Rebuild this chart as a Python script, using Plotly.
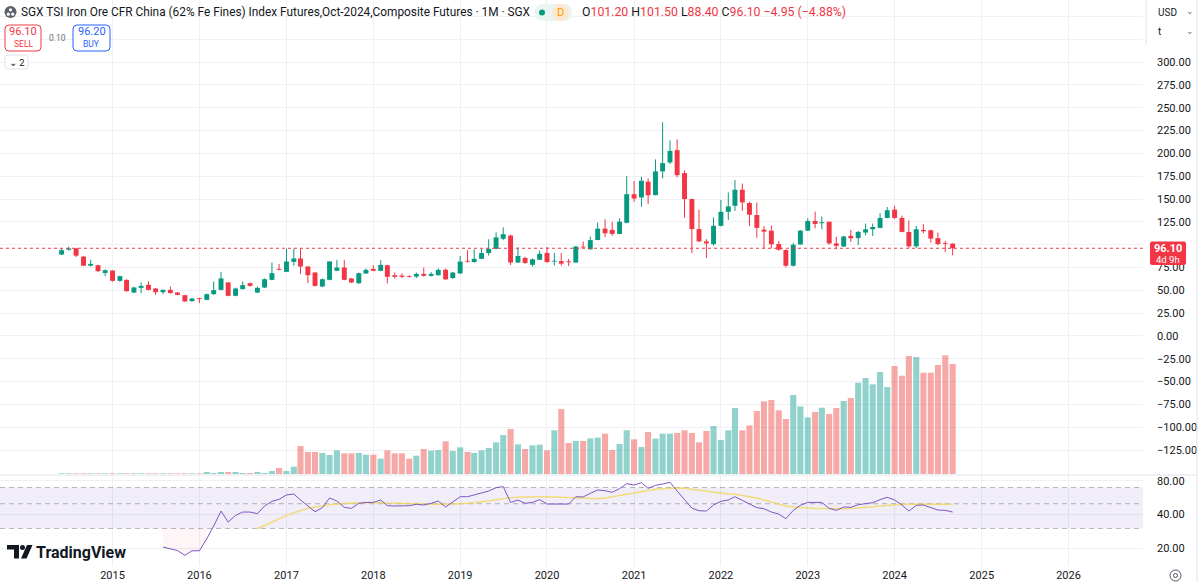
import plotly.graph_objects as go
import pandas as pd

# ---------------- data (monthly bars, Jun 2014 .. Sep 2024) ----------------
first_month = "2014-06-01"
opens = [89.2, 94.5, 96.0, 87.0, 77.0, 77.5, 69.0,
         71.7, 60.4, 61.5, 47.6, 52.7, 56.0, 52.0, 48.0, 50.5, 47.6, 44.7, 38.2,
         41.3, 39.6, 45.8, 50.5, 58.6, 44.0, 51.3, 57.8, 47.6, 53.1, 61.5, 73.5,
         70.3, 81.2, 84.9, 76.1, 69.5, 54.2, 61.5, 71.4, 75.0, 63.0, 57.8, 68.4,
         73.5, 71.4, 77.5, 66.6, 66.2, 65.5, 65.1, 68.0, 65.9, 66.6, 72.5, 63.5,
         68.5, 82.0, 81.0, 84.5, 90.8, 95.5, 106.5, 110.0, 80.5, 85.5, 78.0, 83.5,
         91.0, 81.5, 82.0, 81.8, 80.5, 97.5, 95.0, 105.2, 117.6, 116.2, 111.8, 124.0,
         155.3, 151.8, 169.0, 154.3, 180.3, 190.1, 203.6, 178.4, 150.0, 117.1, 103.6, 100.7,
         120.7, 136.0, 142.6, 160.2, 145.6, 132.5, 116.5, 115.4, 100.7, 94.1, 77.0, 100.3,
         115.4, 126.0, 123.5, 125.1, 101.4, 98.0, 109.6, 107.2, 113.3, 116.9, 118.4, 129.3,
         138.4, 129.3, 114.0, 98.2, 116.2, 115.8, 107.2, 101.7, 101.2]
highs = [96.2, 98.0, 96.5, 87.5, 83.4, 78.0, 73.0,
         72.0, 66.0, 62.0, 54.0, 58.6, 60.0, 52.5, 51.0, 54.2, 48.0, 45.0, 42.0,
         41.8, 46.5, 59.7, 70.3, 59.0, 53.0, 59.7, 58.5, 54.0, 63.0, 80.5, 79.0,
         95.8, 95.8, 95.8, 76.5, 70.0, 63.0, 82.0, 83.4, 83.4, 63.5, 69.5, 74.0,
         77.5, 83.0, 78.0, 69.5, 68.5, 66.5, 69.5, 75.0, 70.0, 74.0, 74.0, 70.0,
         87.6, 94.0, 95.0, 95.5, 106.0, 113.5, 119.0, 111.0, 97.0, 86.8, 85.0, 93.5,
         97.5, 91.0, 91.0, 84.6, 98.5, 103.4, 109.0, 124.2, 127.8, 125.2, 128.9, 175.0,
         170.0, 174.4, 172.6, 193.4, 234.0, 214.3, 215.4, 181.5, 150.5, 138.4, 106.0, 129.9,
         149.0, 157.2, 170.7, 167.0, 147.0, 146.3, 120.3, 121.0, 104.0, 95.0, 102.0, 116.0,
         129.0, 136.2, 130.8, 125.5, 108.7, 109.6, 116.2, 115.0, 123.2, 123.2, 134.6, 141.3,
         142.8, 131.8, 126.7, 120.5, 122.5, 116.5, 113.3, 104.2, 101.5]
lows = [88.5, 93.5, 86.5, 76.5, 76.0, 70.0, 65.5,
        59.5, 59.5, 48.5, 47.0, 46.9, 50.0, 45.0, 45.8, 46.5, 44.5, 37.5, 37.5,
        36.0, 39.0, 45.0, 50.0, 43.5, 43.5, 51.0, 54.0, 47.0, 52.5, 61.0, 72.0,
        70.0, 76.8, 67.7, 57.8, 54.0, 53.5, 61.0, 71.0, 61.0, 58.0, 57.0, 68.0,
        71.0, 71.0, 57.5, 63.0, 63.5, 64.0, 63.5, 65.0, 65.0, 66.0, 61.5, 62.5,
        68.0, 80.5, 80.3, 84.0, 88.0, 95.0, 105.0, 77.8, 80.0, 79.0, 76.0, 83.0,
        80.0, 77.2, 77.0, 76.6, 80.0, 96.5, 94.5, 105.0, 108.3, 110.0, 111.5, 123.5,
        147.0, 141.5, 144.3, 154.0, 172.6, 188.4, 173.7, 129.6, 90.8, 103.0, 85.5, 99.0,
        120.0, 127.0, 137.0, 137.0, 120.3, 107.6, 96.0, 96.0, 93.5, 75.2, 75.9, 100.0,
        115.0, 118.0, 116.9, 100.0, 95.0, 97.5, 103.0, 99.7, 110.4, 109.6, 118.0, 129.0,
        128.0, 113.5, 96.4, 96.4, 112.5, 102.3, 99.6, 91.8, 88.4]
closes = [94.0, 96.0, 88.0, 77.0, 79.0, 71.0, 72.0,
          60.4, 65.5, 49.1, 53.1, 54.9, 50.5, 48.0, 50.5, 47.0, 45.0, 37.8, 41.0,
          40.6, 45.8, 50.2, 63.0, 44.0, 52.0, 55.7, 54.9, 52.7, 62.2, 68.8, 72.5,
          81.6, 84.9, 76.1, 66.6, 54.9, 62.2, 81.6, 75.0, 61.5, 58.6, 68.8, 72.4,
          71.4, 77.9, 64.8, 64.8, 64.8, 64.8, 68.0, 65.9, 68.0, 72.4, 62.0, 69.5,
          81.5, 81.4, 84.5, 90.8, 95.5, 108.0, 111.5, 80.5, 87.6, 80.0, 84.0, 90.0,
          81.0, 82.0, 79.3, 80.8, 98.0, 97.0, 105.0, 117.6, 112.5, 111.8, 125.2, 155.3,
          150.6, 170.0, 154.2, 180.3, 189.4, 202.8, 176.2, 150.0, 117.1, 103.6, 101.4, 120.7,
          136.0, 141.9, 160.2, 146.3, 132.8, 118.5, 114.3, 100.5, 94.5, 77.0, 99.9, 115.4,
          126.0, 122.7, 124.6, 101.4, 98.8, 109.0, 107.0, 114.0, 116.9, 119.4, 129.3, 137.7,
          129.3, 114.0, 98.2, 116.9, 114.7, 106.7, 100.7, 101.0, 96.1]
# volume (relative units)
volumes = [2, 2, 2, 2, 2, 2, 2,
           2, 2, 2, 2, 2, 2, 2, 2, 2, 2, 2, 2,
           2, 6, 3, 6, 6, 6, 3, 3, 6, 3, 9, 18,
           9, 22, 84, 66, 66, 63, 57, 71, 62, 62, 63, 58,
           58, 46, 71, 62, 62, 46, 55, 75, 70, 72, 98, 69,
           80, 66, 63, 71, 78, 95, 117, 135, 89, 75, 86, 88,
           71, 131, 195, 93, 99, 99, 107, 109, 121, 72, 90, 131,
           104, 81, 126, 106, 121, 121, 123, 131, 123, 95, 129, 144,
           102, 131, 198, 131, 146, 189, 218, 222, 191, 165, 237, 203,
           170, 186, 199, 180, 198, 219, 228, 274, 288, 269, 306, 261,
           324, 295, 354, 351, 304, 304, 327, 356, 330]

rsi_first_month = "2015-08-01"
rsi_values = [20.4, 19.7, 19.0, 17.2, 18.9,
              18.9, 24.2, 31.5, 43.0, 34.2, 39.3, 42.1, 42.1, 40.7, 47.7, 52.5, 54.8,
              59.9, 61.1, 54.0, 47.7, 42.4, 46.1, 56.3, 52.9, 46.4, 45.4, 50.4, 51.4,
              51.4, 54.0, 48.0, 47.7, 47.7, 48.0, 49.4, 48.7, 50.4, 52.9, 46.7, 51.8,
              57.8, 57.8, 59.9, 62.9, 65.0, 69.7, 71.2, 51.4, 54.0, 50.4, 51.4, 54.4,
              49.7, 49.7, 49.7, 49.7, 57.8, 57.5, 62.0, 66.4, 65.5, 63.3, 68.3, 75.7,
              73.6, 77.3, 68.7, 73.1, 75.2, 77.8, 65.0, 54.8, 45.7, 43.3, 43.0, 48.7,
              52.5, 54.0, 57.8, 53.6, 49.7, 46.1, 45.1, 42.1, 40.4, 36.7, 43.6, 48.4,
              51.4, 51.1, 51.4, 45.4, 43.6, 46.7, 46.4, 49.0, 50.1, 51.1, 54.4, 57.1,
              54.0, 48.7, 43.0, 48.4, 48.7, 46.1, 43.9, 43.6, 42.1]
rsi_ma_first_month = "2016-09-01"
rsi_ma_values = [29.8, 32.0, 34.5, 36.7,
                 39.3, 41.5, 43.6, 45.4, 46.7, 48.0, 49.0, 49.7, 50.4, 50.7, 51.1, 51.1,
                 51.4, 51.1, 50.7, 50.4, 50.1, 49.7, 49.4, 49.4, 49.4, 49.4, 49.4, 49.7,
                 50.1, 50.4, 51.1, 51.8, 52.9, 54.4, 55.9, 56.7, 57.1, 57.5, 57.5, 57.8,
                 57.8, 57.5, 57.1, 56.7, 56.3, 55.9, 55.5, 55.5, 56.3, 57.5, 59.0, 60.7,
                 62.4, 64.1, 65.9, 67.3, 68.3, 69.2, 69.2, 68.7, 67.3, 65.9, 64.6, 63.3,
                 62.0, 61.1, 60.7, 59.5, 57.8, 56.3, 54.0, 51.8, 49.4, 47.7, 46.7, 46.1,
                 45.7, 45.4, 45.4, 45.1, 45.1, 45.1, 45.4, 45.7, 46.4, 47.0, 47.7, 48.4,
                 49.0, 49.4, 49.4, 49.4, 49.4, 49.4, 49.4, 49.4, 49.4]
rsi_levels = [70, 50, 30]
last_price = 96.10
price_ticks = list(range(-125, 351, 25))
hidden_price_labels = [100, 325, 350]   # covered by the price tag / currency selector
rsi_ticks = [20, 40, 80]
years = list(range(2015, 2027))
x_view = ["2013-09-15", "2026-11-10"]

# ---------------- styling ----------------
UP, DN = "#089981", "#F23645"
VUP, VDN = "rgba(38,166,154,0.5)", "rgba(239,83,80,0.5)"
TXT = "#131722"
GRID = "#eef0f4"
FONT = "Roboto"
W, H = 1200, 582
ML, MR, MT, MB = 0, 57, 0, 16
PW, PH = W - ML - MR, H - MT - MB
MONTH_MS = 30.44 * 86400000

months = pd.date_range(first_month, periods=len(closes), freq="MS")
rsi_months = pd.date_range(rsi_first_month, periods=len(rsi_values), freq="MS")
ma_months = pd.date_range(rsi_ma_first_month, periods=len(rsi_ma_values), freq="MS")
is_up = [c >= o for o, c in zip(opens, closes)]
vol_colors = [VUP if u else VDN for u in is_up]
body_colors = [UP if u else DN for u in is_up]
body_base = [min(o, c) for o, c in zip(opens, closes)]
body_len = [max(abs(c - o), 0.9) for o, c in zip(opens, closes)]
year_ticks = [f"{y}-01-01" for y in years]

fig = go.Figure()
fig.add_trace(go.Bar(x=months, y=volumes, marker=dict(color=vol_colors, line_width=0),
                     width=[0.84 * MONTH_MS] * len(months),
                     xaxis="x", yaxis="y2", hoverinfo="skip"))

# candle wicks
for want_up, col in ((True, UP), (False, DN)):
    wx, wy = [], []
    for d, lo, hi, u in zip(months, lows, highs, is_up):
        if u == want_up:
            wx += [d, d, None]
            wy += [lo, hi, None]
    fig.add_trace(go.Scatter(x=wx, y=wy, mode="lines", line=dict(color=col, width=1),
                             xaxis="x", yaxis="y", hoverinfo="skip", connectgaps=False))
# candle bodies
fig.add_trace(go.Bar(x=months, y=body_len, base=body_base,
                     marker=dict(color=body_colors, line_width=0),
                     width=[0.68 * MONTH_MS] * len(months),
                     xaxis="x", yaxis="y", hoverinfo="skip"))

# RSI pane
band_x = [x_view[0], x_view[1]]
fig.add_trace(go.Scatter(x=band_x, y=[rsi_levels[2]] * 2, mode="lines", line=dict(width=0),
                         xaxis="x2", yaxis="y3", hoverinfo="skip"))
fig.add_trace(go.Scatter(x=band_x, y=[rsi_levels[0]] * 2, mode="lines", line=dict(width=0),
                         fill="tonexty", fillcolor="rgba(126,87,194,0.1)",
                         xaxis="x2", yaxis="y3", hoverinfo="skip"))
for lv in rsi_levels:
    fig.add_trace(go.Scatter(x=band_x, y=[lv] * 2, mode="lines",
                             line=dict(color="rgba(120,123,134,0.55)", width=1, dash="5px,4px"),
                             xaxis="x2", yaxis="y3", hoverinfo="skip"))
# oversold tint
os_n = 7
fig.add_trace(go.Scatter(x=rsi_months[:os_n], y=[rsi_levels[2]] * os_n, mode="lines",
                         line=dict(width=0), xaxis="x2", yaxis="y3", hoverinfo="skip"))
fig.add_trace(go.Scatter(x=rsi_months[:os_n], y=rsi_values[:os_n], mode="lines",
                         line=dict(width=0), fill="tonexty", fillcolor="rgba(242,54,69,0.05)",
                         xaxis="x2", yaxis="y3", hoverinfo="skip"))
fig.add_trace(go.Scatter(x=ma_months, y=rsi_ma_values, mode="lines",
                         line=dict(color="rgba(240,214,80,0.75)", width=1.5),
                         xaxis="x2", yaxis="y3", hoverinfo="skip"))
fig.add_trace(go.Scatter(x=rsi_months, y=rsi_values, mode="lines",
                         line=dict(color="#7E57C2", width=1),
                         xaxis="x2", yaxis="y3", hoverinfo="skip"))

main_dom = [(PH - 474) / PH, 1]
rsi_dom = [0, (PH - 476) / PH]
p_top, p_bot = 368.06, -151.2

axis_font = dict(family=FONT, size=11, color=TXT)
price_text = ["" if t in hidden_price_labels else f"{t:.2f}".replace("-", "−")
              for t in price_ticks]
fig.update_layout(
    width=W, height=H, margin=dict(l=ML, r=MR, t=MT, b=MB, autoexpand=False),
    paper_bgcolor="white", plot_bgcolor="white", showlegend=False,
    hovermode=False, barmode="overlay",
    font=dict(family=FONT, color=TXT),
    xaxis=dict(type="date", range=x_view, domain=[0, 1], anchor="y",
               tickvals=year_ticks, showticklabels=False, showgrid=True,
               gridcolor=GRID, zeroline=False, showline=False, fixedrange=True),
    xaxis2=dict(type="date", range=x_view, domain=[0, 1], anchor="y3", matches="x",
                tickvals=year_ticks, ticktext=[str(y) for y in years],
                showgrid=True, gridcolor=GRID, zeroline=False, showline=False,
                tickfont=axis_font, ticks="", ticklabelstandoff=1, automargin=False),
    yaxis=dict(domain=main_dom, range=[p_bot, p_top], side="right", anchor="x",
               tickvals=price_ticks, ticktext=price_text, tickfont=axis_font,
               showgrid=True, gridcolor=GRID, zeroline=False, showline=False,
               ticks="", ticklabelstandoff=13, automargin=False),
    yaxis2=dict(domain=main_dom, range=[0, 474 * 3], overlaying="y", visible=False,
                anchor="x"),
    yaxis3=dict(domain=rsi_dom, type="log", range=[1.1399, 1.9479], side="right",
                anchor="x2", tickvals=rsi_ticks, ticktext=[f"{t:.2f}" for t in rsi_ticks],
                tickfont=axis_font, showgrid=True, gridcolor=GRID, zeroline=False,
                showline=False, ticks="", ticklabelstandoff=13, automargin=False),
)


def px(x):
    return (x - ML) / PW


def py(y):
    return (PH - (y - MT)) / PH


shapes = []
annos = []


def rect(x0, y0, x1, y1, fill="white", line=None, lw=1, r=0):
    if r <= 0:
        shapes.append(dict(type="rect", xref="paper", yref="paper", x0=px(x0), x1=px(x1),
                           y0=py(y1), y1=py(y0), fillcolor=fill,
                           line=dict(color=line or fill, width=lw if line else 0),
                           layer="above"))
        return
    X0, X1, Y0, Y1 = px(x0), px(x1), py(y0), py(y1)
    rx, ry = r / PW, r / PH
    path = (f"M{X0+rx},{Y0} L{X1-rx},{Y0} Q{X1},{Y0} {X1},{Y0-ry} L{X1},{Y1+ry} "
            f"Q{X1},{Y1} {X1-rx},{Y1} L{X0+rx},{Y1} Q{X0},{Y1} {X0},{Y1+ry} "
            f"L{X0},{Y0-ry} Q{X0},{Y0} {X0+rx},{Y0} Z")
    shapes.append(dict(type="path", xref="paper", yref="paper", path=path, fillcolor=fill,
                       line=dict(color=line or fill, width=lw if line else 0), layer="above"))


def text(x, y, s, size=12, color=TXT, xanchor="left", bold=False, family=FONT):
    annos.append(dict(xref="paper", yref="paper", x=px(x), y=py(y), text=s, showarrow=False,
                      xanchor=xanchor, yanchor="middle",
                      font=dict(family=family, size=size, color=color,
                                weight="bold" if bold else "normal")))


# price line
shapes.append(dict(type="line", xref="paper", yref="y", x0=0, x1=1, y0=last_price,
                   y1=last_price, line=dict(color=DN, width=1, dash="dot"), layer="above"))
# pane separator and right border
shapes.append(dict(type="line", xref="paper", yref="paper", x0=0, x1=px(1197),
                   y0=py(475), y1=py(475), line=dict(color="#e0e3eb", width=1)))
shapes.append(dict(type="line", xref="paper", yref="paper", x0=px(1197), x1=px(1197),
                   y0=py(0), y1=py(582), line=dict(color="#e0e3eb", width=1)))

# header: symbol icon (grey disc with three dots)
shapes.append(dict(type="circle", xref="paper", yref="paper", x0=px(4.5), x1=px(16.5),
                   y0=py(18), y1=py(6), fillcolor="#5d606b", line=dict(width=0)))
for cx, cy in ((8.3, 14.2), (12.7, 14.2), (10.5, 9.8)):
    shapes.append(dict(type="circle", xref="paper", yref="paper", x0=px(cx - 1.6),
                       x1=px(cx + 1.6), y0=py(cy + 1.6), y1=py(cy - 1.6),
                       fillcolor="white", line=dict(width=0)))
title = ("SGX TSI Iron Ore CFR China (62% Fe Fines) Index Futures,Oct-2024,"
         "Composite Futures · 1M · SGX")
text(19, 12, title, size=11.85)
rect(535, 4, 572, 21, fill="#eaf5f2", r=8)
shapes.append(dict(type="circle", xref="paper", yref="paper", x0=px(539), x1=px(545),
                   y0=py(15.5), y1=py(9.5), fillcolor=UP, line=dict(width=0)))
shapes.append(dict(type="circle", xref="paper", yref="paper", x0=px(552), x1=px(569),
                   y0=py(21), y1=py(4), fillcolor="#fde7cf", line=dict(width=0)))
text(560.5, 12.5, "D", size=11, color="#ff9800", xanchor="center")
r_ = "color:#F23645"
ohlc = (f"O<span style='{r_}'>101.20</span> H<span style='{r_}'>101.50</span> "
        f"L<span style='{r_}'>88.40</span> C<span style='{r_}'>96.10</span> "
        f"<span style='{r_}'>−4.95 (−4.88%)</span>")
text(580, 12, ohlc, size=12.3)

rect(5, 25, 41, 51, fill="white", line=DN, r=4)
text(23, 32, "96.10", size=11, color=DN, xanchor="center")
text(23, 44, "SELL", size=8.5, color=DN, xanchor="center")
text(57, 38, "0.10", size=8.5, color="#6a6d78", xanchor="center")
rect(73, 25, 110, 51, fill="white", line="#2962FF", r=4)
text(91.5, 32, "96.20", size=11, color="#2962FF", xanchor="center")
text(91.5, 44, "BUY", size=8.5, color="#2962FF", xanchor="center")
rect(5, 55, 28, 69, fill="white", line="#e0e3eb", r=3)
text(16.5, 62, "⌄ 2", size=9.5, color=TXT, xanchor="center")

# top right currency / unit selectors
rect(1146, 0, 1196, 45, fill="white")
shapes.append(dict(type="line", xref="paper", yref="paper", x0=px(1146), x1=px(1146),
                   y0=py(0), y1=py(45), line=dict(color="#e0e3eb", width=1)))
text(1156, 12, "USD", size=10, color=TXT)
text(1190, 11, "⌄", size=9, color="#6a6d78", xanchor="center")
text(1156, 32, "t", size=10, color=TXT)
text(1190, 31, "⌄", size=9, color="#6a6d78", xanchor="center")

# last price tag
rect(1150, 241.5, 1186, 265, fill=DN, r=2)
text(1168, 248, "96.10", size=11, color="white", xanchor="center", bold=True)
text(1168, 259, "4d 9h", size=9.5, color="white", xanchor="center")

# TradingView logo
X = px
Y = py
shapes.append(dict(type="path", xref="paper", yref="paper",
                   path=(f"M{X(7)},{Y(545)} L{X(19)},{Y(545)} L{X(19)},{Y(558.5)} "
                         f"L{X(14)},{Y(558.5)} L{X(14)},{Y(549.5)} L{X(7)},{Y(549.5)} Z"),
                   fillcolor=TXT, line=dict(width=0)))
shapes.append(dict(type="circle", xref="paper", yref="paper", x0=X(20), x1=X(25),
                   y0=Y(550), y1=Y(545), fillcolor=TXT, line=dict(width=0)))
shapes.append(dict(type="path", xref="paper", yref="paper",
                   path=(f"M{X(27)},{Y(545)} L{X(32.5)},{Y(545)} L{X(26.5)},{Y(558.5)} "
                         f"L{X(21)},{Y(558.5)} Z"),
                   fillcolor=TXT, line=dict(width=0)))
text(34, 552, "TradingView", size=16, color=TXT, bold=True)

# settings icon bottom right
shapes.append(dict(type="circle", xref="paper", yref="paper", x0=X(1170), x1=X(1181),
                   y0=Y(581), y1=Y(570), fillcolor="rgba(0,0,0,0)",
                   line=dict(color="#50535e", width=1)))
shapes.append(dict(type="circle", xref="paper", yref="paper", x0=X(1173.5), x1=X(1177.5),
                   y0=Y(577.5), y1=Y(573.5), fillcolor="rgba(0,0,0,0)",
                   line=dict(color="#50535e", width=1)))

fig.update_layout(shapes=shapes, annotations=annos)
fig.write_html("out.html", config=dict(displayModeBar=False, staticPlot=True),
               post_script="document.body.style.margin='0';document.body.style.padding='0';")
